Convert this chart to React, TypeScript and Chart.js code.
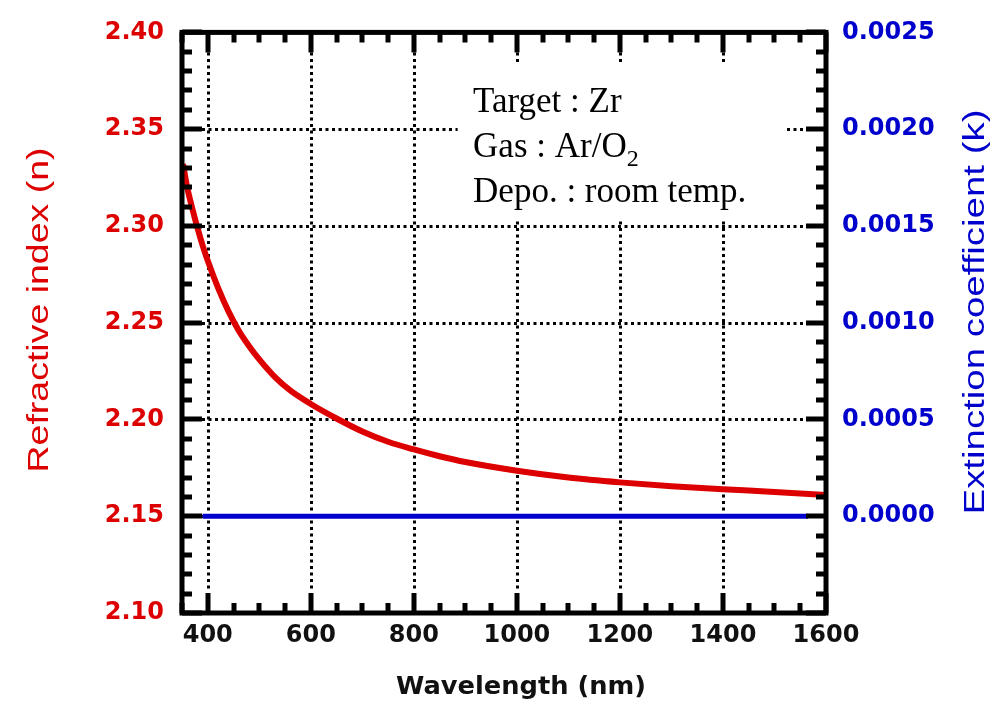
import React, { useEffect, useRef } from 'react';
import { Chart, registerables } from 'chart.js';

Chart.register(...registerables);

// ---- data ----
const wavelengths = [352, 360, 370, 380, 390, 400, 420, 440, 460, 480, 500, 530, 560, 600, 650, 700, 750, 800, 850, 900, 1000, 1100, 1200, 1300, 1400, 1500, 1600];
const refractiveIndex = [2.332, 2.320, 2.309, 2.299, 2.290, 2.282, 2.268, 2.256, 2.246, 2.238, 2.231, 2.222, 2.215, 2.208, 2.2005, 2.1938, 2.1885, 2.1845, 2.181, 2.178, 2.1735, 2.170, 2.1675, 2.1655, 2.164, 2.1625, 2.161];
const kWavelengths = [390, 600, 800, 1000, 1200, 1400, 1565];
const extinction = [0, 0, 0, 0, 0, 0, 0];

const xTicks = [400, 600, 800, 1000, 1200, 1400, 1600];
const nTicks = [2.10, 2.15, 2.20, 2.25, 2.30, 2.35, 2.40];
const kTicks = [0, 0.0005, 0.001, 0.0015, 0.002, 0.0025];

const xTitle = 'Wavelength (nm)';
const nTitle = 'Refractive index (n)';
const kTitle = 'Extinction coefficient (k)';
const noteLines = ['Target : Zr', 'Gas : Ar/O', 'Depo. : room temp.'];
const noteSub = '2';

const RED = '#dd0000';
const BLUE = '#0000cc';

function drawStretched(ctx: CanvasRenderingContext2D, text: string, cx: number, cy: number, rot: number, font: string, color: string, len: number) {
  ctx.save();
  ctx.font = font;
  ctx.fillStyle = color;
  ctx.textAlign = 'center';
  ctx.textBaseline = 'middle';
  const w = ctx.measureText(text).width;
  ctx.translate(cx, cy);
  ctx.rotate(rot);
  ctx.scale(len / w, 1);
  ctx.fillText(text, 0, 0);
  ctx.restore();
}

const framePlugin = {
  id: 'framePlugin',
  beforeDatasetsDraw(chart: any) {
    const { ctx, chartArea: a, scales } = chart;
    const x = scales.x;
    const y = scales.y;
    ctx.save();
    // dotted grid
    ctx.strokeStyle = '#000';
    ctx.lineWidth = 3;
    ctx.setLineDash([3, 3.5]);
    for (const v of xTicks) {
      if (v >= 1600) continue;
      const px = Math.round(x.getPixelForValue(v)) + 0.5;
      ctx.beginPath();
      ctx.moveTo(px, a.top + 20);
      ctx.lineTo(px, a.bottom - 24);
      ctx.stroke();
    }
    for (const v of nTicks) {
      if (v <= 2.10 + 1e-9 || v >= 2.40 - 1e-9) continue;
      const py = Math.round(y.getPixelForValue(v)) + 0.5;
      ctx.beginPath();
      ctx.moveTo(a.left + 20, py);
      ctx.lineTo(a.right - 22, py);
      ctx.stroke();
    }
    ctx.setLineDash([]);
    // white annotation box
    const bx0 = x.getPixelForValue(885);
    const bx1 = x.getPixelForValue(1520);
    const by0 = y.getPixelForValue(2.3835);
    const by1 = y.getPixelForValue(2.3035);
    ctx.fillStyle = '#fff';
    ctx.fillRect(bx0, by0, bx1 - bx0, by1 - by0);
    // annotation text
    ctx.fillStyle = '#000';
    ctx.textAlign = 'left';
    ctx.textBaseline = 'alphabetic';
    const tx = x.getPixelForValue(915);
    const ty = y.getPixelForValue(2.3591);
    ctx.font = '35px "Liberation Serif"';
    noteLines.forEach((t, i) => {
      ctx.fillText(t, tx, ty + i * 45);
      if (i === 1) {
        const w = ctx.measureText(t).width;
        ctx.font = '24px "Liberation Serif"';
        ctx.fillText(noteSub, tx + w, ty + i * 45 + 9);
        ctx.font = '35px "Liberation Serif"';
      }
    });
    ctx.restore();
  },
  afterDatasetsDraw(chart: any) {
    const { ctx, chartArea: a, scales } = chart;
    const x = scales.x;
    const y = scales.y;
    ctx.save();
    ctx.strokeStyle = '#000';
    ctx.lineWidth = 5;
    ctx.lineCap = 'butt';
    // x tick marks (top and bottom)
    for (let v = 350; v <= 1600; v += 50) {
      const px = Math.round(x.getPixelForValue(v));
      const major = v % 200 === 0;
      const L = major ? 20 : 10;
      ctx.beginPath();
      ctx.moveTo(px, a.bottom);
      ctx.lineTo(px, a.bottom - L);
      ctx.moveTo(px, a.top);
      ctx.lineTo(px, a.top + L);
      ctx.stroke();
    }
    // y tick marks (left and right)
    for (let i = 0; i <= 30; i++) {
      const v = 2.10 + i * 0.01;
      const py = Math.round(y.getPixelForValue(v));
      const major = i % 5 === 0;
      const L = major ? 20 : 10;
      ctx.beginPath();
      ctx.moveTo(a.left, py);
      ctx.lineTo(a.left + L, py);
      ctx.moveTo(a.right, py);
      ctx.lineTo(a.right - L, py);
      ctx.stroke();
    }
    // frame
    ctx.strokeRect(a.left, a.top, a.right - a.left, a.bottom - a.top);
    ctx.restore();

    // axis titles
    drawStretched(ctx, nTitle, 40, 310, -Math.PI / 2, '30px "Liberation Sans"', RED, 325);
    drawStretched(ctx, kTitle, 976, 312, -Math.PI / 2, '30px "Liberation Sans"', BLUE, 405);
    drawStretched(ctx, xTitle, 521, 688, 0, 'bold 24px "DejaVu Sans"', '#111', 250);
  },
};

export default function App() {
  const ref = useRef<HTMLCanvasElement | null>(null);
  useEffect(() => {
    document.body.style.margin = '0';
    document.body.style.overflow = 'hidden';
    if (!ref.current) return;
    const tickFont = { family: 'DejaVu Sans', weight: 'bold' as const, size: 24 };
    const chart = new Chart(ref.current, {
      type: 'line',
      data: {
        datasets: [
          {
            label: 'n',
            data: wavelengths.map((w, i) => ({ x: w, y: refractiveIndex[i] })),
            borderColor: RED,
            borderWidth: 6,
            pointRadius: 0,
            cubicInterpolationMode: 'monotone',
            yAxisID: 'y',
          },
          {
            label: 'k',
            data: kWavelengths.map((w, i) => ({ x: w, y: extinction[i] })),
            borderColor: BLUE,
            borderWidth: 5,
            pointRadius: 0,
            yAxisID: 'y2',
          },
        ],
      },
      options: {
        responsive: false,
        animation: false,
        layout: { padding: { top: 27, left: 0, right: 0, bottom: 0 } },
        plugins: { legend: { display: false }, tooltip: { enabled: false } },
        scales: {
          x: {
            type: 'linear',
            position: 'bottom',
            min: 350,
            max: 1600,
            grid: { display: false, drawTicks: false },
            border: { display: false },
            afterBuildTicks: (s: any) => { s.ticks = xTicks.map((v) => ({ value: v })); },
            afterFit: (s: any) => { s.height = 94; },
            ticks: { font: tickFont, color: '#111', padding: 8, maxRotation: 0, autoSkip: false, callback: (v: any) => String(v) },
          },
          y: {
            type: 'linear',
            position: 'left',
            min: 2.10,
            max: 2.40,
            grid: { display: false, drawTicks: false },
            border: { display: false },
            afterBuildTicks: (s: any) => { s.ticks = nTicks.map((v) => ({ value: v })); },
            afterFit: (s: any) => { s.width = 182; },
            ticks: { font: tickFont, color: RED, padding: 18, autoSkip: false, callback: (v: any) => Number(v).toFixed(2) },
          },
          y2: {
            type: 'linear',
            position: 'right',
            min: -0.0005,
            max: 0.0025,
            grid: { display: false, drawTicks: false },
            border: { display: false },
            afterBuildTicks: (s: any) => { s.ticks = kTicks.map((v) => ({ value: v })); },
            afterFit: (s: any) => { s.width = 181; },
            ticks: { font: tickFont, color: BLUE, padding: 16, autoSkip: false, callback: (v: any) => Number(v).toFixed(4) },
          },
        },
      },
      plugins: [framePlugin],
    } as any);
    return () => chart.destroy();
  }, []);
  return (
    <div style={{ width: 1007, height: 707, background: '#fff' }}>
      <canvas ref={ref} width={1007} height={707} style={{ display: 'block' }} />
    </div>
  );
}
